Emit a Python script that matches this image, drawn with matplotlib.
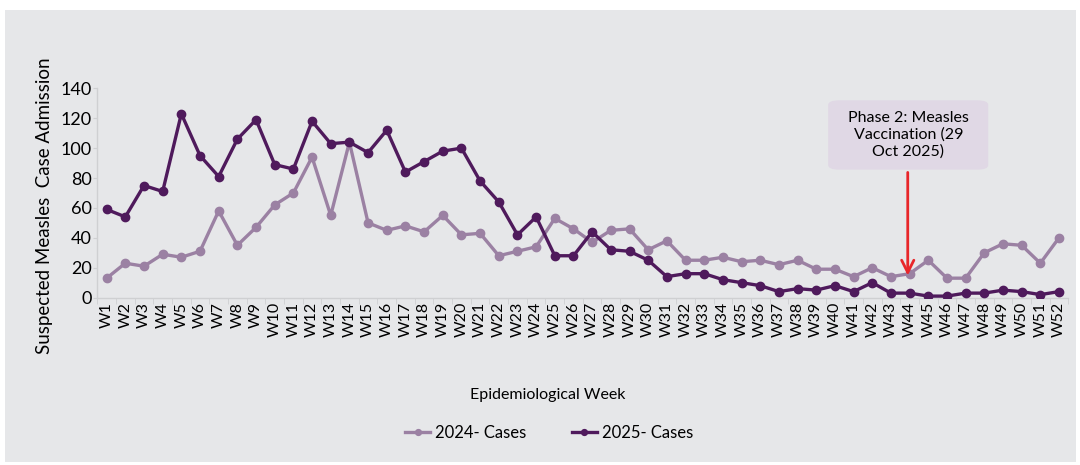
import matplotlib
matplotlib.use("Agg")
import matplotlib.pyplot as plt
from matplotlib.patches import Rectangle, FancyBboxPatch

plt.rcParams['font.family'] = ['Lato', 'DejaVu Sans']

weeks = [f"W{i}" for i in range(1, 53)]
cases_2024 = [13, 23, 21, 29, 27, 31, 58, 35, 47, 62, 70, 94, 55, 104, 50, 45, 48, 44, 55, 42,
              43, 28, 31, 34, 53, 46, 37, 45, 46, 32, 38, 25, 25, 27, 24, 25, 22, 25, 19, 19,
              14, 20, 14, 16, 25, 13, 13, 30, 36, 35, 23, 40]
cases_2025 = [59, 54, 75, 71, 123, 95, 81, 106, 119, 89, 86, 118, 103, 104, 97, 112, 84, 91, 98, 100,
              78, 64, 42, 54, 28, 28, 44, 32, 31, 25, 14, 16, 16, 12, 10, 8, 4, 6, 5, 8,
              4, 10, 3, 3, 1, 1, 3, 3, 5, 4, 2, 4]

panel = '#e6e7e9'
light = '#9b81a3'
dark = '#4f1a5c'
axis_grey = '#cfd0d2'

fig = plt.figure(figsize=(10.8, 4.65), dpi=100, facecolor='white')
# grey chart area behind everything
fig.patches.append(Rectangle((5 / 1080, 3 / 465), 1071 / 1080, 452 / 465,
                             transform=fig.transFigure, facecolor=panel,
                             edgecolor='none', zorder=-10))

ax = fig.add_axes([0.0901, 0.3600, 0.8991, 0.4500])
ax.set_facecolor('none')

x = list(range(1, 53))
ax.plot(x, cases_2024, color=light, lw=2.4, marker='o', ms=6, label='2024- Cases', zorder=3)
ax.plot(x, cases_2025, color=dark, lw=2.4, marker='o', ms=6, label='2025- Cases', zorder=4)

ax.set_xlim(0.5, 52.5)
ax.set_ylim(0, 140)
ax.set_yticks(range(0, 141, 20))
ax.set_xticks(x)
ax.set_xticklabels(weeks, rotation=90, fontsize=11.5)
ax.set_xticks([i + 0.5 for i in range(0, 53)], minor=True)
ax.tick_params(axis='x', which='major', length=0, pad=3)
ax.tick_params(axis='x', which='minor', length=4, color=axis_grey)
ax.tick_params(axis='y', length=3, color=axis_grey, labelsize=13, pad=1)

for side in ['top', 'right']:
    ax.spines[side].set_visible(False)
for side in ['left', 'bottom']:
    ax.spines[side].set_color(axis_grey)
    ax.spines[side].set_linewidth(1)

ax.set_ylabel('Suspected Measles  Case Admission', fontsize=13.5)
ax.yaxis.set_label_coords(-0.0456, 0.44)
fig.text(548 / 1080, 1 - 395 / 465, 'Epidemiological Week', ha='center', va='center', fontsize=11.5)

# vaccination campaign callout
ax.annotate('', xy=(43.9, 12.9), xytext=(43.9, 85.6),
            arrowprops=dict(arrowstyle='->', color='#e8262a', lw=2, mutation_scale=22),
            zorder=5)
box = FancyBboxPatch((39.64, 85.6), 8.57, 46.4, boxstyle='round,pad=0,rounding_size=0.6',
                     facecolor='#e0d8e5', edgecolor='none', zorder=5,
                     mutation_aspect=5)
ax.add_patch(box)
ax.text(43.93, 108.8, 'Phase 2: Measles\nVaccination (29\nOct 2025)', ha='center', va='center',
        fontsize=11.5, linespacing=1.25, zorder=6)

fig.legend(loc='center', bbox_to_anchor=(549 / 1080, 1 - 433 / 465), ncol=2, frameon=False,
           fontsize=12, handlelength=1.5, handletextpad=0.3, columnspacing=2.7, markerscale=0.7)

fig.savefig('out.png', dpi=100, facecolor='white')
